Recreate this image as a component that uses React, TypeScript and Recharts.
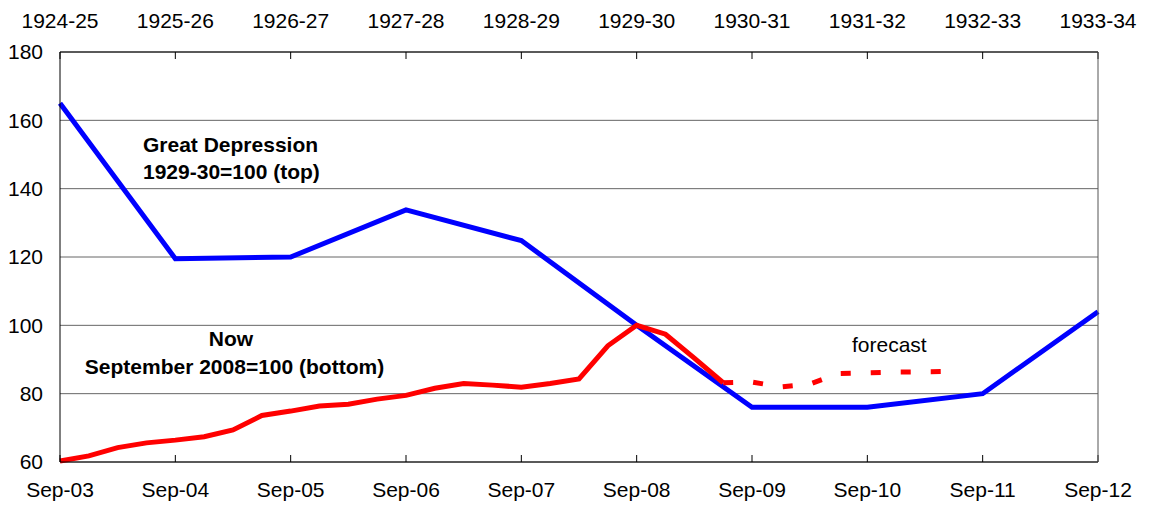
import React from 'react';
import { LineChart, Line, XAxis, YAxis, CartesianGrid } from 'recharts';

// Bottom axis: quarters from Sep-03 (index 0) to Sep-12 (index 36)
const bottomLabels = ['Sep-03', 'Sep-04', 'Sep-05', 'Sep-06', 'Sep-07', 'Sep-08', 'Sep-09', 'Sep-10', 'Sep-11', 'Sep-12'];
const topLabels = ['1924-25', '1925-26', '1926-27', '1927-28', '1928-29', '1929-30', '1930-31', '1931-32', '1932-33', '1933-34'];
const yTicks = [60, 80, 100, 120, 140, 160, 180];

// Great Depression, annual (1929-30 = 100)
const greatDepression = [165, 119.5, 120, 133.8, 124.8, 100, 76, 76, 80, 104];

// Now, quarterly from Sep-03 (September 2008 = 100)
const nowActual = [
  60.3, 61.8, 64.2, 65.6, 66.4, 67.4, 69.4, 73.6, 74.9, 76.4, 76.9, 78.4,
  79.5, 81.6, 83.0, 82.5, 81.9, 83.0, 84.3, 94.0, 100, 97.4, 90.4, 83.2,
];
// Forecast, quarterly from Jun-09
const forecastStart = 23;
const nowForecast = [83.2, 83.4, 82.0, 82.8, 85.9, 86.1, 86.3, 86.4, 86.5];

const QUARTERS = 36;
const data = Array.from({ length: QUARTERS + 1 }, (_, i) => ({
  q: i,
  gd: i % 4 === 0 ? greatDepression[i / 4] : null,
  now: i < nowActual.length ? nowActual[i] : null,
  fc: i >= forecastStart && i - forecastStart < nowForecast.length ? nowForecast[i - forecastStart] : null,
}));

const xTicks = bottomLabels.map((_, i) => i * 4);
const FONT = '"Liberation Sans", Arial, Helvetica, sans-serif';
const tickStyle = { fill: '#000', fontSize: 21, fontFamily: FONT };

export default function App() {
  return (
    <div style={{ position: 'absolute', left: 0, top: 0, width: 1153, height: 505, background: '#fff' }}>
      <LineChart width={1153} height={505} data={data} margin={{ top: 0, right: 0, bottom: 0, left: 0 }}>
        <CartesianGrid yAxisId="left" vertical={false} stroke="#666" strokeWidth={1} />
        <XAxis
          dataKey="q"
          type="number"
          domain={[0, QUARTERS]}
          ticks={xTicks}
          interval={0}
          tickFormatter={(v: number) => bottomLabels[Math.round(v / 4)]}
          height={43}
          tickSize={-7}
          tickMargin={27}
          stroke="#000"
          tick={tickStyle}
          allowDecimals={false}
        />
        <XAxis
          xAxisId="top"
          orientation="top"
          dataKey="q"
          type="number"
          domain={[0, QUARTERS]}
          ticks={xTicks}
          interval={0}
          tickFormatter={(v: number) => topLabels[Math.round(v / 4)]}
          height={52}
          tickSize={-7}
          tickMargin={31}
          stroke="#000"
          tick={tickStyle}
        />
        <YAxis
          yAxisId="left"
          domain={[60, 180]}
          ticks={yTicks}
          interval={0}
          width={60}
          tickLine={false}
          tickSize={0}
          tickMargin={17}
          stroke="#000"
          tick={tickStyle}
        />
        <YAxis
          yAxisId="right"
          orientation="right"
          domain={[60, 180]}
          ticks={yTicks}
          interval={0}
          width={55}
          tickLine={false}
          tickSize={0}
          tickMargin={14}
          stroke="#555"
          tick={tickStyle}
        />
        <Line yAxisId="left" dataKey="gd" stroke="#0000FF" strokeWidth={5} dot={false} connectNulls isAnimationActive={false} />
        <Line yAxisId="left" dataKey="now" stroke="#FF0000" strokeWidth={5} dot={false} isAnimationActive={false} />
        <Line
          yAxisId="left"
          dataKey="fc"
          stroke="#FF0000"
          strokeWidth={5}
          strokeDasharray="10 20"
          dot={false}
          isAnimationActive={false}
        />
      </LineChart>
      <svg
        width={1153}
        height={505}
        style={{ position: 'absolute', left: 0, top: 0, pointerEvents: 'none' }}
        fontFamily={FONT}
        fontSize={21}
      >
        <text x={143} y={151.5} fontWeight="bold" fill="#000">Great Depression</text>
        <text x={143} y={178.5} fontWeight="bold" fill="#000">1929-30=100 (top)</text>
        <text x={231} y={345.7} fontWeight="bold" textAnchor="middle" fill="#000">Now</text>
        <text x={234.5} y={374} fontWeight="bold" textAnchor="middle" fill="#000">September 2008=100 (bottom)</text>
        <text x={852} y={352} fill="#000">forecast</text>
      </svg>
    </div>
  );
}
